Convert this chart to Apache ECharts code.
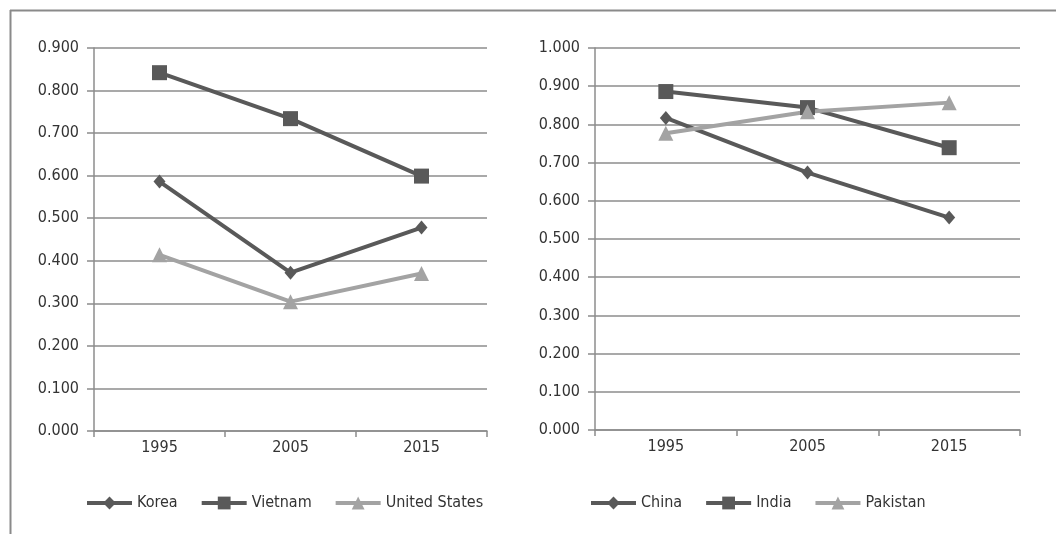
<!DOCTYPE html>
<html>
<head>
<meta charset="utf-8">
<script src="https://cdn.jsdelivr.net/npm/echarts@6/dist/echarts.min.js"></script>
<style>
html,body{margin:0;padding:0;background:#fff;}
#chart{width:1056px;height:534px;}
</style>
</head>
<body>
<div id="chart"></div>
<script>
// ---- data ----
const years = ['1995', '2005', '2015'];
const leftNames = ['Korea', 'Vietnam', 'United States'];
const korea = [0.586, 0.372, 0.478];
const vietnam = [0.842, 0.734, 0.599];
const unitedStates = [0.414, 0.304, 0.370];
const rightNames = ['China', 'India', 'Pakistan'];
const china = [0.817, 0.674, 0.556];
const india = [0.886, 0.844, 0.739];
const pakistan = [0.777, 0.833, 0.857];
const leftAxisMax = 0.9;
const rightAxisMax = 1.0;
const axisStep = 0.1;

const FONT = "'DejaVu Sans Condensed', 'DejaVu Sans', sans-serif";
const FS = 16;
const DARK = '#595959';
const LIGHT = '#a3a3a3';
const GRID = '#8c8c8c';
const TEXT = '#333333';

function xAxisCfg(gi) {
  return {
    type: 'category', gridIndex: gi, data: years, boundaryGap: true,
    axisLine: { show: true, lineStyle: { color: GRID, width: 1.5 } },
    axisTick: { show: true, interval: 0, length: 6, lineStyle: { color: GRID, width: 1.5 } },
    axisLabel: { color: TEXT, fontFamily: FONT, fontSize: FS, margin: 9 },
    splitLine: { show: false }
  };
}
function yAxisCfg(gi, max) {
  return {
    type: 'value', gridIndex: gi, min: 0, max: max, interval: axisStep,
    axisLine: { show: true, lineStyle: { color: GRID, width: 1.5 } },
    axisTick: { show: true, length: 7, lineStyle: { color: GRID, width: 1.5 } },
    axisLabel: { color: TEXT, fontFamily: FONT, fontSize: FS, margin: 15,
      formatter: v => v.toFixed(3) },
    splitLine: { show: true, lineStyle: { color: GRID, width: 1.5 } }
  };
}
function lineSeries(name, data, gi, color, symbol, size) {
  return {
    name: name, type: 'line', data: data, xAxisIndex: gi, yAxisIndex: gi,
    symbol: symbol, symbolSize: size, showSymbol: true,
    lineStyle: { color: color, width: 4 },
    itemStyle: { color: color },
    emphasis: { disabled: true },
    animation: false, z: 3
  };
}
function legendCfg(names, left, gap) {
  return {
    data: names, left: left, top: 495, padding: 0,
    itemWidth: 45, itemHeight: 16, itemGap: gap,
    lineStyle: { width: 4 },
    textStyle: { color: TEXT, fontFamily: FONT, fontSize: FS }
  };
}

const chart = echarts.init(document.getElementById('chart'), null, { renderer: 'canvas' });
chart.setOption({
  backgroundColor: '#ffffff',
  animation: false,
  grid: [
    { left: 94, right: 1056 - 487, top: 48, bottom: 534 - 431 },
    { left: 595, right: 1056 - 1020, top: 48, bottom: 534 - 430 }
  ],
  xAxis: [xAxisCfg(0), xAxisCfg(1)],
  yAxis: [yAxisCfg(0, leftAxisMax), yAxisCfg(1, rightAxisMax)],
  legend: [legendCfg(leftNames, 85, 22), legendCfg(rightNames, 589, 22)],
  series: [
    lineSeries(leftNames[0], korea, 0, DARK, 'diamond', [12, 14]),
    lineSeries(leftNames[1], vietnam, 0, DARK, 'rect', 15),
    lineSeries(leftNames[2], unitedStates, 0, LIGHT, 'triangle', 15),
    lineSeries(rightNames[0], china, 1, DARK, 'diamond', [12, 14]),
    lineSeries(rightNames[1], india, 1, DARK, 'rect', 15),
    lineSeries(rightNames[2], pakistan, 1, LIGHT, 'triangle', 15)
  ],
  graphic: [
    { type: 'line', shape: { x1: 10, y1: 10.5, x2: 1056, y2: 10.5 }, style: { stroke: '#8a8a8a', lineWidth: 2 }, silent: true },
    { type: 'line', shape: { x1: 10.5, y1: 10, x2: 10.5, y2: 534 }, style: { stroke: '#8a8a8a', lineWidth: 2 }, silent: true }
  ]
});
</script>
</body>
</html>
